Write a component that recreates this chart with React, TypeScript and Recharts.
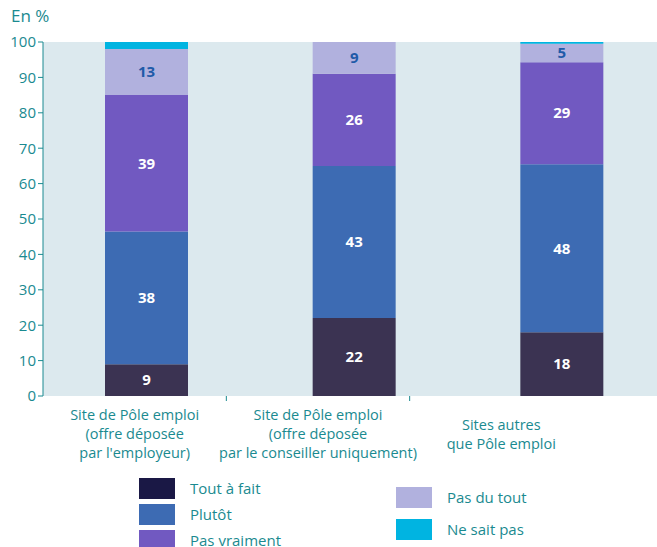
import React from "react";
import { BarChart, Bar, XAxis, YAxis, CartesianGrid, LabelList } from "recharts";

const CATEGORIES = [
  "Site de Pôle emploi\n(offre déposée\npar l'employeur)",
  "Site de Pôle emploi\n(offre déposée\npar le conseiller uniquement)",
  "Sites autres\nque Pôle emploi",
];
// heights; labels are the rounded values
const TOUT_A_FAIT = [9, 22, 18];
const PLUTOT = [37.5, 43, 47.5];
const PAS_VRAIMENT = [38.5, 26, 28.8];
const PAS_DU_TOUT = [13, 9, 5.2];
const NE_SAIT_PAS = [2, 0, 0.5];
const Y_TICKS = [0, 10, 20, 30, 40, 50, 60, 70, 80, 90, 100];

const SERIES = [
  { key: "toutAFait", name: "Tout à fait", values: TOUT_A_FAIT, color: "#3b3352", legend: "#1a1845", label: "#ffffff" },
  { key: "plutot", name: "Plutôt", values: PLUTOT, color: "#3d6bb3", legend: "#3d6bb3", label: "#ffffff" },
  { key: "pasVraiment", name: "Pas vraiment", values: PAS_VRAIMENT, color: "#7159c1", legend: "#7159c1", label: "#ffffff" },
  { key: "pasDuTout", name: "Pas du tout", values: PAS_DU_TOUT, color: "#b1b1de", legend: "#b1b1de", label: "#1f5aa8" },
  { key: "neSaitPas", name: "Ne sait pas", values: NE_SAIT_PAS, color: "#00b4e1", legend: "#00b4e1", label: null },
];

const data = CATEGORIES.map((cat, i) => {
  const row: Record<string, string | number> = { cat };
  SERIES.forEach((s) => (row[s.key] = s.values[i]));
  return row;
});

const TEAL = "#1a8a90";
const FONT = "'Open Sans', 'Noto Sans', sans-serif";
const LABEL_BAND = 550 / 3;
const LINE_H = 19;

const CatTick = (props: any) => {
  const { x, y, payload, index } = props;
  const lines = String(payload.value).split("\n");
  // multi-line labels are centred on the 3-line block
  const first = y + 35 - ((lines.length - 1) / 2) * LINE_H;
  return (
    <g>
      {index < CATEGORIES.length - 1 && (
        <line x1={x + LABEL_BAND / 2} x2={x + LABEL_BAND / 2} y1={y - 8} y2={y - 3} stroke={TEAL} />
      )}
      <text x={x} y={first} textAnchor="middle" fill={TEAL} fontSize={14.5} fontFamily={FONT}>
        {lines.map((l, i) => (
          <tspan key={i} x={x} dy={i === 0 ? 0 : LINE_H}>
            {l}
          </tspan>
        ))}
      </text>
    </g>
  );
};

const LegendItem = ({ s }: { s: (typeof SERIES)[number] }) => (
  <div style={{ display: "flex", alignItems: "center", height: 26 }}>
    <div style={{ width: 36, height: 21, background: s.legend, marginRight: 15 }} />
    <span style={{ color: TEAL, fontSize: 15, lineHeight: "16px", fontFamily: FONT }}>{s.name}</span>
  </div>
);

export default function App() {
  return (
    <div style={{ position: "absolute", left: 0, top: 0, width: 657, height: 547, overflow: "hidden", background: "#fff" }}>
      <div style={{ position: "absolute", left: 11, top: 4, color: TEAL, fontSize: 17, fontFamily: FONT }}>En %</div>
      <BarChart width={666} height={470} data={data} margin={{ top: 42, right: 0, left: 0, bottom: 4 }}>
        <CartesianGrid fill="#dce9ee" stroke="none" vertical={false} horizontal={false} />
        <YAxis
          type="number"
          domain={[0, 100]}
          allowDataOverflow
          ticks={Y_TICKS}
          width={43}
          tickSize={5}
          stroke={TEAL}
          tick={{ fill: TEAL, fontSize: 15, fontFamily: FONT }}
        />
        <XAxis xAxisId="bars" dataKey="cat" height={0} tick={false} tickLine={false} stroke={TEAL} />
        <XAxis
          xAxisId="labels"
          dataKey="cat"
          height={70}
          axisLine={false}
          tickLine={false}
          padding={{ left: 0, right: 73 }}
          interval={0}
          tick={<CatTick />}
        />
        {SERIES.map((s) => (
          <Bar key={s.key} xAxisId="bars" dataKey={s.key} name={s.name} stackId="a" fill={s.color} barSize={83} isAnimationActive={false}>
            {s.label && (
              <LabelList
                dataKey={s.key}
                position="center"
                fill={s.label}
                fontSize={15}
                fontWeight="bold"
                fontFamily={FONT}
                formatter={(v: any) => Math.round(Number(v))}
              />
            )}
          </Bar>
        ))}
      </BarChart>
      <div style={{ position: "absolute", left: 139, top: 475 }}>
        {SERIES.slice(0, 3).map((s) => (
          <LegendItem key={s.key} s={s} />
        ))}
      </div>
      <div style={{ position: "absolute", left: 396, top: 484 }}>
        {SERIES.slice(3).map((s) => (
          <div key={s.key} style={{ marginBottom: 6 }}>
            <LegendItem s={s} />
          </div>
        ))}
      </div>
    </div>
  );
}
